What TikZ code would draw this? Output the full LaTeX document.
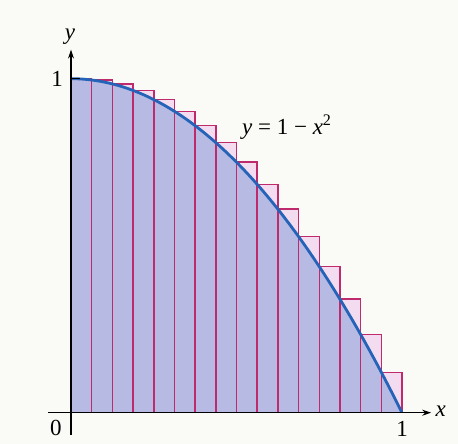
\documentclass[tikz,border=0pt]{standalone}
\usepackage{fontspec}
\setmainfont{Liberation Serif}
\usetikzlibrary{arrows.meta}
\definecolor{bgc}{HTML}{FAFAF6}
\definecolor{pinkfill}{HTML}{F3DCEF}
\definecolor{bluefill}{HTML}{B7BAE3}
\definecolor{rectline}{HTML}{BF2A6C}
\definecolor{curvec}{HTML}{2563B8}
\tikzset{
  rectbox/.style={draw=rectline, line width=1.5pt},
  axis/.style={line width=1.1pt, -{Stealth[length=9pt,width=6pt]}},
  lbl/.style={font=\fontsize{23}{26}\selectfont, inner sep=0pt},
  curve/.style={draw=curvec, line width=2.8pt}
}
\begin{document}
\begin{tikzpicture}[x=1pt,y=1pt]
\useasboundingbox (0,0) rectangle (458,444);
\fill[bgc] (0,0) rectangle (458,444);
\begin{scope}[shift={(71,31.3)}, x=331pt, y=334pt]
  % pink rectangles (upper sum, left endpoints)
  \foreach \i in {0,...,15} {
    \pgfmathsetmacro{\xa}{\i/16}
    \pgfmathsetmacro{\xb}{(\i+1)/16}
    \pgfmathsetmacro{\h}{1-(\i/16)^2}
    \fill[pinkfill] (\xa,0) rectangle (\xb,\h);
  }
  % blue area under curve
  \fill[bluefill] (0,0) -- plot[domain=0:1, samples=80, smooth] (\x,{1-\x*\x}) -- cycle;
  % rectangle outlines
  \foreach \i in {0,...,15} {
    \pgfmathsetmacro{\xa}{\i/16}
    \pgfmathsetmacro{\xb}{(\i+1)/16}
    \pgfmathsetmacro{\h}{1-(\i/16)^2}
    \draw[rectbox] (\xa,0) rectangle (\xb,\h);
  }
  % curve
  \draw[curve] plot[domain=0:1, samples=80, smooth] (\x,{1-\x*\x});
  % axes
  \coordinate (xs) at (-0.07,0);
  \coordinate (xe) at (1.088,0);
  \coordinate (ys) at (0,-0.067);
  \coordinate (ye) at (0,1.087);
  \draw[axis] (xs) -- (xe);
  \draw[axis] (ys) -- (ye);
  \coordinate (t1) at (0,1);
  \coordinate (t2) at (0.028,1);
  \draw[line width=1.1pt] (t1) -- (t2);
  % labels
  \node[lbl] (ylab) at (-0.003,1.125) {\textit{y}};
  \node[lbl] (xlab) at (1.117,0.004) {\textit{x}};
  \node[lbl] (one-y) at (-0.042,1.0) {1};
  \node[lbl] (one-x) at (1.0,-0.05) {1};
  \node[lbl] (zero) at (-0.046,-0.047) {0};
  \node[lbl] (eq) at (0.652,0.855) {\textit{y} = 1 − \textit{x}\textsuperscript{2}};
\end{scope}
\end{tikzpicture}
\end{document}
